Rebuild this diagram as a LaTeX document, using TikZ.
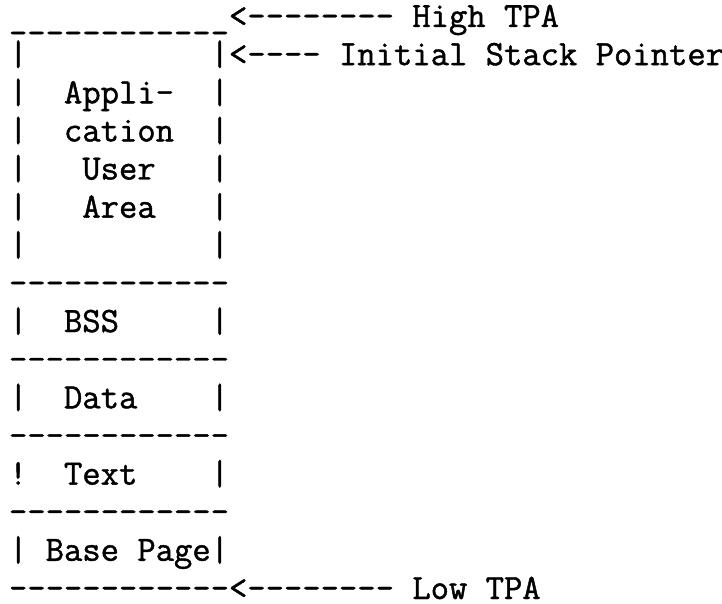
\documentclass[tikz,border=0pt]{standalone}
\usepackage{fontspec}
\setmonofont{Latin Modern Mono}[FakeBold=1.2]
\begin{document}
\begin{tikzpicture}[x=0.5pt,y=-0.5pt,
  row/.style={anchor=base west, inner sep=0pt, outer sep=0pt,
    font=\ttfamily\fontsize{17.8}{20}\selectfont}]
\fill[white] (0,0) rectangle (722,604);
\useasboundingbox (0,0) rectangle (722,604);
\node[row] (l1)  at (9,27)    {\_\_\_\_\_\_\_\_\_\_\_\_<--------~High~TPA};
\node[row] (l2)  at (9,65.1)  {|~~~~~~~~~~|<----~Initial~Stack~Pointer};
\node[row] (l3)  at (9,103.3) {|~~Appli-~~|};
\node[row] (l4)  at (9,141.4) {|~~cation~~|};
\node[row] (l5)  at (9,179.5) {|~~~User~~~|};
\node[row] (l6)  at (9,217.7) {|~~~Area~~~|};
\node[row] (l7)  at (9,255.8) {|~~~~~~~~~~|};
\node[row] (l8)  at (9,293.9) {------------};
\node[row] (l9)  at (9,332.0) {|~~BSS~~~~~|};
\node[row] (l10) at (9,370.2) {------------};
\node[row] (l11) at (9,408.3) {|~~Data~~~~|};
\node[row] (l12) at (9,446.4) {------------};
\node[row] (l13) at (9,484.6) {!~~Text~~~~|};
\node[row] (l14) at (9,522.7) {------------};
\node[row] (l15) at (9,560.8) {|~Base~Page|};
\node[row] (l16) at (9,599.0) {------------<--------~Low~TPA};
\end{tikzpicture}
\end{document}
